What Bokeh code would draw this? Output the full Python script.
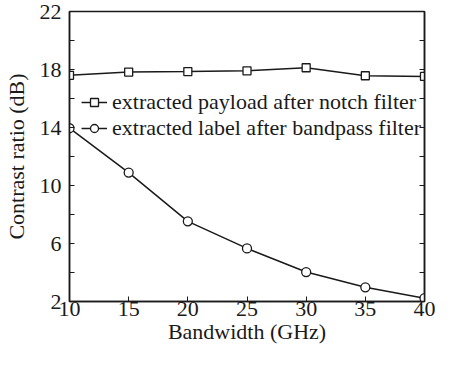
from bokeh.plotting import figure
from bokeh.models import FixedTicker, LinearAxis, Range1d, Legend, LegendItem
from bokeh.embed import file_html
from bokeh.resources import INLINE

bandwidth = [10, 15, 20, 25, 30, 35, 40]
payload_notch = [17.6, 17.82, 17.86, 17.91, 18.12, 17.57, 17.52]
label_bandpass = [13.95, 10.89, 7.53, 5.66, 4.03, 2.98, 2.23]
x_ticks = [10, 15, 20, 25, 30, 35, 40]
y_ticks = [2, 6, 10, 14, 18, 22]
y_minor = [4, 8, 12, 16, 20]
series_names = ["extracted payload after notch filter",
                "extracted label after bandpass filter"]

FONT = "Liberation Serif"
INK = "#1a1a1a"
FS = "22px"

p = figure(width=435, height=351, output_backend="svg", toolbar_location=None,
           x_range=Range1d(10, 40), y_range=Range1d(2, 22),
           min_border_left=62, min_border_right=11, min_border_top=11,
           min_border_bottom=50, background_fill_color="white",
           border_fill_color="white")
p.grid.visible = False
p.outline_line_color = INK
p.outline_line_width = 1.5

l1 = p.line(bandwidth, payload_notch, line_color=INK, line_width=1.5)
m1 = p.scatter(bandwidth, payload_notch, marker="square", size=8,
               line_color=INK, line_width=1.3, fill_color="white")
l2 = p.line(bandwidth, label_bandpass, line_color=INK, line_width=1.5)
m2 = p.scatter(bandwidth, label_bandpass, marker="circle", size=9,
               line_color=INK, line_width=1.3, fill_color="white")

xa = p.xaxis[0]
xa.ticker = FixedTicker(ticks=x_ticks)
xa.axis_label = "Bandwidth (GHz)"
ya = p.yaxis[0]
ya.ticker = FixedTicker(ticks=y_ticks, minor_ticks=y_minor)
ya.axis_label = "Contrast ratio (dB)"

for ax in (xa, ya):
    ax.axis_line_color = INK
    ax.axis_line_width = 1.5
    ax.major_tick_in = 5
    ax.major_tick_out = 0
    ax.minor_tick_in = 5
    ax.minor_tick_out = 0
    ax.major_tick_line_color = INK
    ax.minor_tick_line_color = INK
    ax.major_label_text_font = FONT
    ax.major_label_text_font_size = FS
    ax.major_label_text_color = INK
    ax.axis_label_text_font = FONT
    ax.axis_label_text_font_size = FS
    ax.axis_label_text_font_style = "normal"
    ax.axis_label_text_color = INK
xa.minor_tick_line_color = None
xa.major_label_standoff = 0
xa.axis_label_standoff = 0
ya.major_label_standoff = 8
ya.axis_label_standoff = 8

ra = LinearAxis(ticker=FixedTicker(ticks=y_ticks, minor_ticks=y_minor),
                major_label_overrides={t: "" for t in y_ticks})
ra.axis_line_color = INK
ra.axis_line_width = 1.5
ra.major_tick_in = 5
ra.major_tick_out = 0
ra.minor_tick_in = 5
ra.minor_tick_out = 0
ra.major_tick_line_color = INK
ra.minor_tick_line_color = INK
ra.major_label_standoff = 0
p.add_layout(ra, "right")

legend = Legend(items=[LegendItem(label=series_names[0], renderers=[l1, m1]),
                       LegendItem(label=series_names[1], renderers=[l2, m2])],
                location=(12, 160))
legend.label_text_font = FONT
legend.label_text_font_size = FS
legend.label_text_color = INK
legend.background_fill_alpha = 0
legend.border_line_color = None
legend.padding = 0
legend.margin = 0
legend.spacing = 0
legend.glyph_width = 26
legend.glyph_height = 20
legend.label_height = 20
legend.label_standoff = 5
p.add_layout(legend)

open("out.html", "w").write(file_html(p, INLINE))
